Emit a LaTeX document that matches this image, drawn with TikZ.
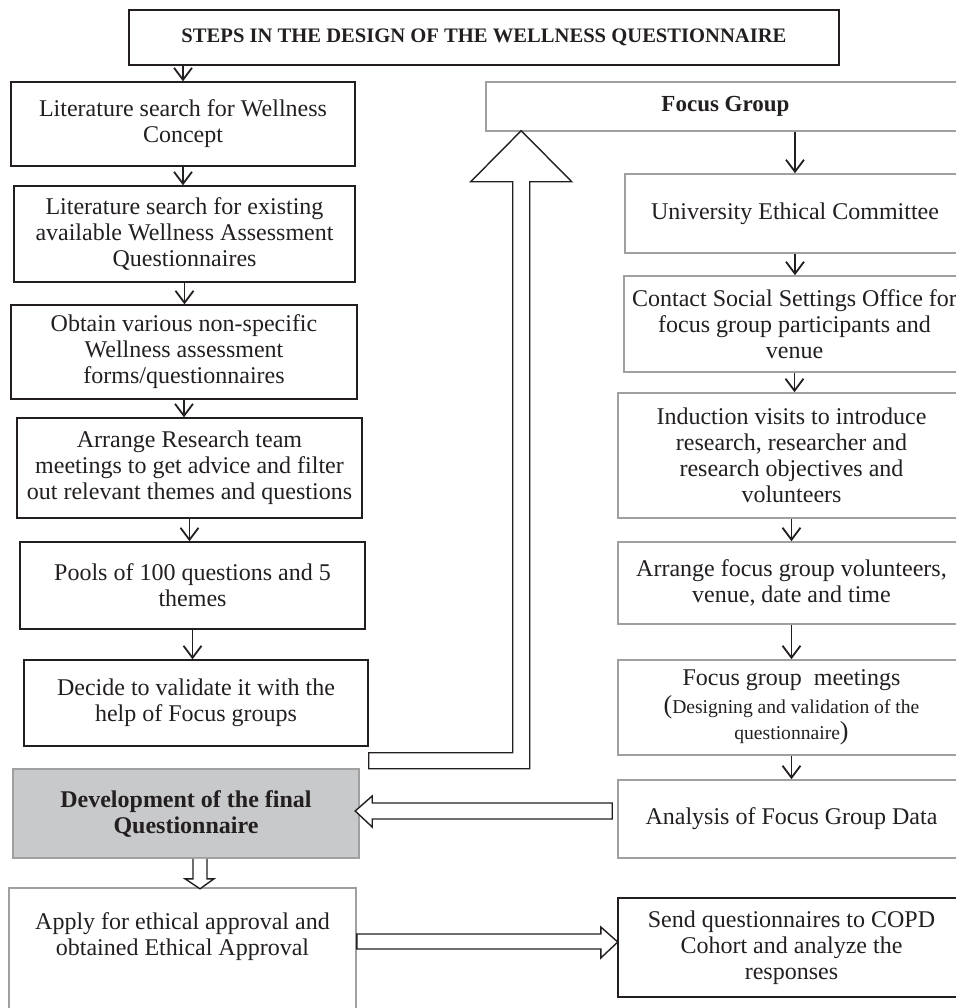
\documentclass[tikz,border=0pt]{standalone}
\usepackage{fontspec}
\setmainfont{Liberation Serif}
\usetikzlibrary{arrows.meta,calc}
\definecolor{ink}{HTML}{231F20}
\definecolor{boxgray}{HTML}{A0A0A0}
\definecolor{fillgray}{HTML}{C8C9CB}
\tikzset{
	blackbox/.style={draw=ink,line width=0.7pt,inner sep=0pt,align=center,text=ink,font=\fontsize{12}{13}\selectfont},
	graybox/.style={blackbox,draw=boxgray,line width=0.8pt},
	flow/.style={draw=ink,line width=0.9pt,-{Straight Barb[length=6pt,width=9pt]}},
	hollow/.style={draw=ink,line width=0.7pt,fill=white,line join=miter},
}
\newcommand{\smalltxt}{\fontsize{9.8}{13}\selectfont}
\newcommand{\bigparen}[1]{{\fontsize{13}{13}\selectfont #1}}

\begin{document}
\begin{tikzpicture}[x=0.5pt,y=-0.5pt]
	\useasboundingbox (0,0) rectangle (956,1008);
	\clip (0,0) rectangle (956,1008);
	%TITLE
	\node[blackbox,minimum width=355pt,minimum height=27.5pt,font=\bfseries\fontsize{10.3}{13}\selectfont] (title) at (484,37.5) {STEPS IN THE DESIGN OF THE WELLNESS QUESTIONNAIRE};
	%LEFT COLUMN
	\node[blackbox,minimum width=172pt,minimum height=42pt] (lit) at (183,124) {Literature search for Wellness\\Concept};
	\node[blackbox,minimum width=170.5pt,minimum height=48pt] (avail) at (184.5,234) {Literature search for existing\\available Wellness Assessment\\Questionnaires};
	\node[blackbox,minimum width=173pt,minimum height=47pt] (obtain) at (184,352) {Obtain various non-specific\\Wellness assessment\\forms/questionnaires};
	\node[blackbox,minimum width=172.5pt,minimum height=50pt] (team) at (189.5,468) {Arrange Research team\\meetings to get advice and filter\\out relevant themes and questions};
	\node[blackbox,minimum width=172.5pt,minimum height=43.5pt] (pools) at (192.5,585.5) {Pools of 100 questions and 5\\themes};
	\node[blackbox,minimum width=172pt,minimum height=43pt] (decide) at (196,703) {Decide to validate it with the\\help of Focus groups};
	%
	\node[graybox,fill=fillgray,minimum width=173pt,minimum height=44.5pt,font=\bfseries\fontsize{12}{13}\selectfont] (final) at (186,813.5) {Development of the final\\Questionnaire};
	\node[graybox,minimum width=173.5pt,minimum height=63.5pt,text depth=17pt] (apply) at (182.5,951.5) {Apply for ethical approval and\\obtained Ethical Approval};
	%RIGHT COLUMN
	\node[graybox,minimum width=239.5pt,minimum height=24.5pt,font=\bfseries\fontsize{11.5}{13}\selectfont] (fgroup) at (725.5,106.5) {Focus Group};
	\node[graybox,minimum width=170pt,minimum height=39.5pt] (ethics) at (795,213.5) {University Ethical Committee};
	\node[graybox,minimum width=170.5pt,minimum height=48pt] (contact) at (794.5,324) {Contact Social Settings Office for\\focus group participants and\\venue};
	\node[graybox,minimum width=173.5pt,minimum height=62.5pt] (induct) at (791.5,455.5) {Induction visits to introduce\\research, researcher and\\research objectives and\\volunteers};
	\node[graybox,minimum width=173.5pt,minimum height=41pt] (arrange) at (791.5,583) {Arrange focus group volunteers,\\venue, date and time};
	\node[graybox,minimum width=173.5pt,minimum height=47.5pt] (meeting) at (791.5,707.5) {Focus group~ meetings\\[1pt]{\smalltxt\bigparen{(}Designing and validation of the}\\{\smalltxt questionnaire\bigparen{)}}};
	\node[graybox,minimum width=173.5pt,minimum height=39pt] (analysis) at (791.5,819) {Analysis of Focus Group Data};
	\node[blackbox,minimum width=173.5pt,minimum height=49.5pt] (send) at (791.5,947.5) {Send questionnaires to COPD\\Cohort and analyze the\\responses};

	%SMALL ARROWS
	\draw[flow] (title.south -| lit) -- (lit.north);
	\foreach \a/\b in {lit/avail,avail/obtain,obtain/team,team/pools,pools/decide,ethics/contact,contact/induct,induct/arrange,arrange/meeting,meeting/analysis}{
	\draw[flow] (\a.south) -- (\a.south |- \b.north);
	}
	\draw[flow] (ethics.north |- fgroup.south) -- (ethics.north);

	%HOLLOW ARROWS
	\draw[hollow] ($(decide.south east)+(0,6)$) -- ++(144,0) -- ++(0,-571) -- ++(-42,0) -- ++(50.5,-51) -- ++(50.5,51) -- ++(-42,0) -- ++(0,587) -- ++(-161,0) -- cycle;
	\draw[hollow] ($(analysis.west)+(-5,-16)$) -- ++(-240,0) -- ++(0,-7) -- ++(-17,15) -- ++(17,16) -- ++(0,-8) -- ++(240,0) -- cycle;
	\draw[hollow] ($(final.south)+(7,0)$) -- ++(0,20) -- ++(-8,0) -- ++(15,10) -- ++(14,-10) -- ++(-7,0) -- ++(0,-20);
	\draw[hollow] ($(apply.east |- send.west)+(0,-13.5)$) -- ++(244,0) -- ++(0,-7) -- ++(17,15) -- ++(-17,16) -- ++(0,-9) -- ++(-244,0) -- cycle;
\end{tikzpicture}
\end{document}
